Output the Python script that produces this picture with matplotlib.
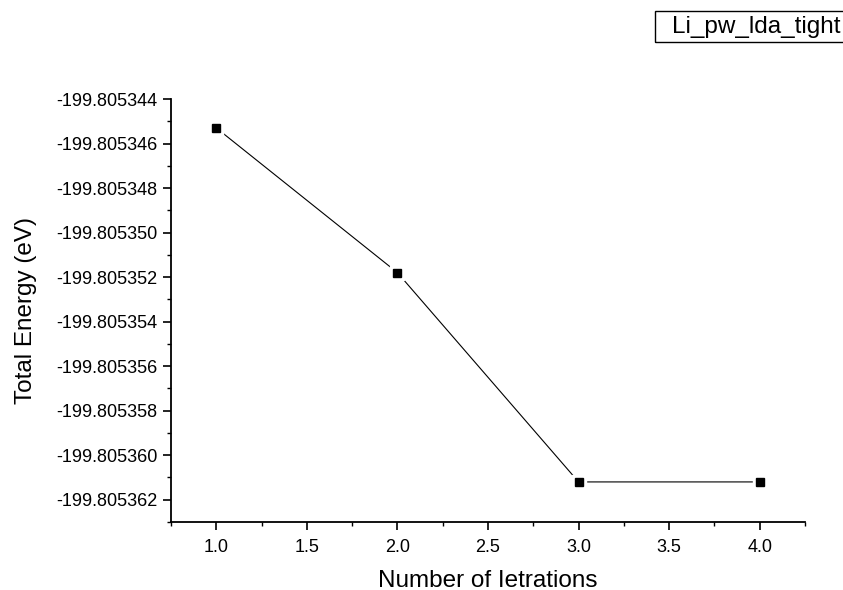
import matplotlib
matplotlib.use('Agg')
import matplotlib.pyplot as plt
from matplotlib.ticker import FixedLocator, FormatStrFormatter
from matplotlib.patches import Rectangle

plt.rcParams['font.family'] = ['Liberation Sans', 'DejaVu Sans']

# SCF convergence of Li (pw, lda, tight)
iterations = [1, 2, 3, 4]
energy = [-199.8053453, -199.8053518, -199.8053612, -199.8053612]
series_name = 'Li_pw_lda_tight'

y_major = [-199.805362, -199.805360, -199.805358, -199.805356, -199.805354,
           -199.805352, -199.805350, -199.805348, -199.805346, -199.805344]
y_minor = [-199.805363, -199.805361, -199.805359, -199.805357, -199.805355,
           -199.805353, -199.805351, -199.805349, -199.805347, -199.805345]
x_major = [1.0, 1.5, 2.0, 2.5, 3.0, 3.5, 4.0]
x_minor = [0.75, 1.25, 1.75, 2.25, 2.75, 3.25, 3.75, 4.25]

fig = plt.figure(figsize=(8.43, 5.90), dpi=100)
ax = fig.add_axes([171/843, 68/590, 634/843, 423/590])

ax.plot(iterations, energy, color='black', linewidth=0.8, zorder=2)
# white square under each marker leaves a small gap in the line
ax.plot(iterations, energy, linestyle='none', marker='s', markersize=10,
        color='white', zorder=3)
ax.plot(iterations, energy, linestyle='none', marker='s', markersize=5.5,
        color='black', zorder=4)

ax.set_xlim(0.75, 4.25)
ax.set_ylim(-199.805363, -199.805344)
ax.xaxis.set_major_locator(FixedLocator(x_major))
ax.xaxis.set_minor_locator(FixedLocator(x_minor))
ax.yaxis.set_major_locator(FixedLocator(y_major))
ax.yaxis.set_minor_locator(FixedLocator(y_minor))
ax.xaxis.set_major_formatter(FormatStrFormatter('%.1f'))
ax.yaxis.set_major_formatter(FormatStrFormatter('%.6f'))

for side in ['top', 'right']:
    ax.spines[side].set_visible(False)
for side in ['left', 'bottom']:
    ax.spines[side].set_linewidth(1.3)

ax.tick_params(which='major', direction='out', length=6, width=1.2,
               labelsize=13)
ax.tick_params(axis='y', which='major', pad=3.5)
ax.tick_params(axis='x', which='major', pad=6)
ax.tick_params(which='minor', direction='out', length=3, width=1.0)

ax.set_xlabel('Number of Ietrations', fontsize=17.5, labelpad=10)
ax.set_ylabel('Total Energy (eV)', fontsize=17.5, labelpad=14)

# legend-style box in the top right corner, running off the edge
fig.patches.append(Rectangle((655/843, 1 - 42/590), 200/843, 31/590,
                             transform=fig.transFigure, fill=False,
                             edgecolor='black', linewidth=1.0))
fig.text(672/843, 1 - 27/590, series_name, fontsize=17.5, va='center', ha='left')

fig.savefig('out.png', dpi=100)
